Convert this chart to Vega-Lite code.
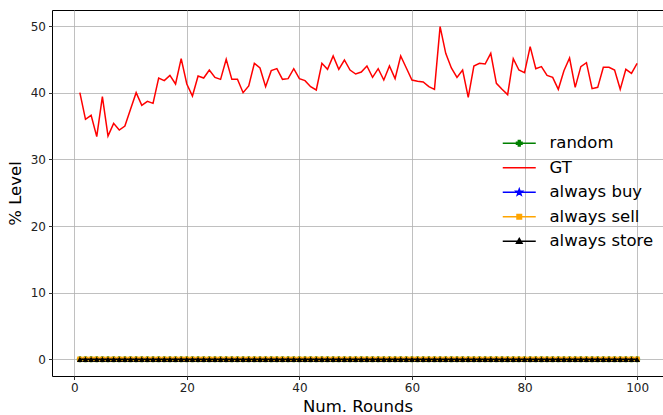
{
  "$schema": "https://vega.github.io/schema/vega-lite/v6.json",
  "width": 611,
  "height": 366,
  "autosize": {"type": "none"},
  "padding": {"left": 52, "top": 10, "right": 0, "bottom": 39},
  "background": "white",
  "data": {"values": [
    {"round":1,"random":0,"GT":40.0,"always buy":0,"always sell":0,"always store":0},
    {"round":2,"random":0,"GT":36.0,"always buy":0,"always sell":0,"always store":0},
    {"round":3,"random":0,"GT":36.6,"always buy":0,"always sell":0,"always store":0},
    {"round":4,"random":0,"GT":33.4,"always buy":0,"always sell":0,"always store":0},
    {"round":5,"random":0,"GT":39.4,"always buy":0,"always sell":0,"always store":0},
    {"round":6,"random":0,"GT":33.5,"always buy":0,"always sell":0,"always store":0},
    {"round":7,"random":0,"GT":35.4,"always buy":0,"always sell":0,"always store":0},
    {"round":8,"random":0,"GT":34.4,"always buy":0,"always sell":0,"always store":0},
    {"round":9,"random":0,"GT":35.0,"always buy":0,"always sell":0,"always store":0},
    {"round":10,"random":0,"GT":37.5,"always buy":0,"always sell":0,"always store":0},
    {"round":11,"random":0,"GT":40.0,"always buy":0,"always sell":0,"always store":0},
    {"round":12,"random":0,"GT":38.1,"always buy":0,"always sell":0,"always store":0},
    {"round":13,"random":0,"GT":38.7,"always buy":0,"always sell":0,"always store":0},
    {"round":14,"random":0,"GT":38.4,"always buy":0,"always sell":0,"always store":0},
    {"round":15,"random":0,"GT":42.2,"always buy":0,"always sell":0,"always store":0},
    {"round":16,"random":0,"GT":41.8,"always buy":0,"always sell":0,"always store":0},
    {"round":17,"random":0,"GT":42.6,"always buy":0,"always sell":0,"always store":0},
    {"round":18,"random":0,"GT":41.3,"always buy":0,"always sell":0,"always store":0},
    {"round":19,"random":0,"GT":45.1,"always buy":0,"always sell":0,"always store":0},
    {"round":20,"random":0,"GT":41.3,"always buy":0,"always sell":0,"always store":0},
    {"round":21,"random":0,"GT":39.5,"always buy":0,"always sell":0,"always store":0},
    {"round":22,"random":0,"GT":42.5,"always buy":0,"always sell":0,"always store":0},
    {"round":23,"random":0,"GT":42.2,"always buy":0,"always sell":0,"always store":0},
    {"round":24,"random":0,"GT":43.4,"always buy":0,"always sell":0,"always store":0},
    {"round":25,"random":0,"GT":42.3,"always buy":0,"always sell":0,"always store":0},
    {"round":26,"random":0,"GT":42.0,"always buy":0,"always sell":0,"always store":0},
    {"round":27,"random":0,"GT":45.0,"always buy":0,"always sell":0,"always store":0},
    {"round":28,"random":0,"GT":42.0,"always buy":0,"always sell":0,"always store":0},
    {"round":29,"random":0,"GT":42.0,"always buy":0,"always sell":0,"always store":0},
    {"round":30,"random":0,"GT":40.0,"always buy":0,"always sell":0,"always store":0},
    {"round":31,"random":0,"GT":41.0,"always buy":0,"always sell":0,"always store":0},
    {"round":32,"random":0,"GT":44.4,"always buy":0,"always sell":0,"always store":0},
    {"round":33,"random":0,"GT":43.7,"always buy":0,"always sell":0,"always store":0},
    {"round":34,"random":0,"GT":40.9,"always buy":0,"always sell":0,"always store":0},
    {"round":35,"random":0,"GT":43.3,"always buy":0,"always sell":0,"always store":0},
    {"round":36,"random":0,"GT":43.6,"always buy":0,"always sell":0,"always store":0},
    {"round":37,"random":0,"GT":42.0,"always buy":0,"always sell":0,"always store":0},
    {"round":38,"random":0,"GT":42.1,"always buy":0,"always sell":0,"always store":0},
    {"round":39,"random":0,"GT":43.6,"always buy":0,"always sell":0,"always store":0},
    {"round":40,"random":0,"GT":42.1,"always buy":0,"always sell":0,"always store":0},
    {"round":41,"random":0,"GT":41.8,"always buy":0,"always sell":0,"always store":0},
    {"round":42,"random":0,"GT":40.9,"always buy":0,"always sell":0,"always store":0},
    {"round":43,"random":0,"GT":40.4,"always buy":0,"always sell":0,"always store":0},
    {"round":44,"random":0,"GT":44.4,"always buy":0,"always sell":0,"always store":0},
    {"round":45,"random":0,"GT":43.5,"always buy":0,"always sell":0,"always store":0},
    {"round":46,"random":0,"GT":45.5,"always buy":0,"always sell":0,"always store":0},
    {"round":47,"random":0,"GT":43.5,"always buy":0,"always sell":0,"always store":0},
    {"round":48,"random":0,"GT":44.9,"always buy":0,"always sell":0,"always store":0},
    {"round":49,"random":0,"GT":43.4,"always buy":0,"always sell":0,"always store":0},
    {"round":50,"random":0,"GT":42.8,"always buy":0,"always sell":0,"always store":0},
    {"round":51,"random":0,"GT":43.1,"always buy":0,"always sell":0,"always store":0},
    {"round":52,"random":0,"GT":44.0,"always buy":0,"always sell":0,"always store":0},
    {"round":53,"random":0,"GT":42.3,"always buy":0,"always sell":0,"always store":0},
    {"round":54,"random":0,"GT":43.6,"always buy":0,"always sell":0,"always store":0},
    {"round":55,"random":0,"GT":41.9,"always buy":0,"always sell":0,"always store":0},
    {"round":56,"random":0,"GT":44.0,"always buy":0,"always sell":0,"always store":0},
    {"round":57,"random":0,"GT":42.1,"always buy":0,"always sell":0,"always store":0},
    {"round":58,"random":0,"GT":45.5,"always buy":0,"always sell":0,"always store":0},
    {"round":59,"random":0,"GT":43.7,"always buy":0,"always sell":0,"always store":0},
    {"round":60,"random":0,"GT":41.9,"always buy":0,"always sell":0,"always store":0},
    {"round":61,"random":0,"GT":41.7,"always buy":0,"always sell":0,"always store":0},
    {"round":62,"random":0,"GT":41.6,"always buy":0,"always sell":0,"always store":0},
    {"round":63,"random":0,"GT":40.9,"always buy":0,"always sell":0,"always store":0},
    {"round":64,"random":0,"GT":40.5,"always buy":0,"always sell":0,"always store":0},
    {"round":65,"random":0,"GT":49.9,"always buy":0,"always sell":0,"always store":0},
    {"round":66,"random":0,"GT":45.9,"always buy":0,"always sell":0,"always store":0},
    {"round":67,"random":0,"GT":43.7,"always buy":0,"always sell":0,"always store":0},
    {"round":68,"random":0,"GT":42.3,"always buy":0,"always sell":0,"always store":0},
    {"round":69,"random":0,"GT":43.4,"always buy":0,"always sell":0,"always store":0},
    {"round":70,"random":0,"GT":39.3,"always buy":0,"always sell":0,"always store":0},
    {"round":71,"random":0,"GT":44.0,"always buy":0,"always sell":0,"always store":0},
    {"round":72,"random":0,"GT":44.4,"always buy":0,"always sell":0,"always store":0},
    {"round":73,"random":0,"GT":44.3,"always buy":0,"always sell":0,"always store":0},
    {"round":74,"random":0,"GT":45.9,"always buy":0,"always sell":0,"always store":0},
    {"round":75,"random":0,"GT":41.4,"always buy":0,"always sell":0,"always store":0},
    {"round":76,"random":0,"GT":40.5,"always buy":0,"always sell":0,"always store":0},
    {"round":77,"random":0,"GT":39.7,"always buy":0,"always sell":0,"always store":0},
    {"round":78,"random":0,"GT":45.1,"always buy":0,"always sell":0,"always store":0},
    {"round":79,"random":0,"GT":43.4,"always buy":0,"always sell":0,"always store":0},
    {"round":80,"random":0,"GT":43.0,"always buy":0,"always sell":0,"always store":0},
    {"round":81,"random":0,"GT":46.9,"always buy":0,"always sell":0,"always store":0},
    {"round":82,"random":0,"GT":43.6,"always buy":0,"always sell":0,"always store":0},
    {"round":83,"random":0,"GT":43.9,"always buy":0,"always sell":0,"always store":0},
    {"round":84,"random":0,"GT":42.6,"always buy":0,"always sell":0,"always store":0},
    {"round":85,"random":0,"GT":42.3,"always buy":0,"always sell":0,"always store":0},
    {"round":86,"random":0,"GT":40.5,"always buy":0,"always sell":0,"always store":0},
    {"round":87,"random":0,"GT":43.3,"always buy":0,"always sell":0,"always store":0},
    {"round":88,"random":0,"GT":45.2,"always buy":0,"always sell":0,"always store":0},
    {"round":89,"random":0,"GT":40.8,"always buy":0,"always sell":0,"always store":0},
    {"round":90,"random":0,"GT":43.9,"always buy":0,"always sell":0,"always store":0},
    {"round":91,"random":0,"GT":44.5,"always buy":0,"always sell":0,"always store":0},
    {"round":92,"random":0,"GT":40.6,"always buy":0,"always sell":0,"always store":0},
    {"round":93,"random":0,"GT":40.8,"always buy":0,"always sell":0,"always store":0},
    {"round":94,"random":0,"GT":43.8,"always buy":0,"always sell":0,"always store":0},
    {"round":95,"random":0,"GT":43.8,"always buy":0,"always sell":0,"always store":0},
    {"round":96,"random":0,"GT":43.4,"always buy":0,"always sell":0,"always store":0},
    {"round":97,"random":0,"GT":40.5,"always buy":0,"always sell":0,"always store":0},
    {"round":98,"random":0,"GT":43.5,"always buy":0,"always sell":0,"always store":0},
    {"round":99,"random":0,"GT":42.9,"always buy":0,"always sell":0,"always store":0},
    {"round":100,"random":0,"GT":44.4,"always buy":0,"always sell":0,"always store":0}
  ]},
  "encoding": {
    "x": {"field": "round", "type": "quantitative",
      "scale": {"domain": [-3.95, 104.6], "nice": false, "zero": false},
      "axis": {"values": [0, 20, 40, 60, 80, 100], "title": "Num. Rounds"}}
  },
  "layer": [
    {"mark": {"type": "line", "color": "green", "strokeWidth": 1.5},
     "encoding": {"y": {"field": "random", "type": "quantitative",
       "scale": {"domain": [-2.5, 52.4], "nice": false, "zero": false},
       "axis": {"values": [0, 10, 20, 30, 40, 50], "title": "% Level"}}}},
    {"mark": {"type": "point", "shape": "cross", "filled": true, "color": "green", "size": 36, "opacity": 1},
     "encoding": {"y": {"field": "random", "type": "quantitative"}}},
    {"mark": {"type": "line", "color": "red", "strokeWidth": 1.5},
     "encoding": {"y": {"field": "GT", "type": "quantitative"}}},
    {"mark": {"type": "line", "color": "blue", "strokeWidth": 1.5},
     "encoding": {"y": {"field": "always buy", "type": "quantitative"}}},
    {"mark": {"type": "point", "shape": "M0,-0.65L0.153,-0.21L0.618,-0.201L0.247,0.08L0.382,0.526L0,0.26L-0.382,0.526L-0.247,0.08L-0.618,-0.201L-0.153,-0.21Z", "filled": true, "color": "blue", "size": 64, "opacity": 1},
     "encoding": {"y": {"field": "always buy", "type": "quantitative"}}},
    {"mark": {"type": "line", "color": "orange", "strokeWidth": 1.5},
     "encoding": {"y": {"field": "always sell", "type": "quantitative"}}},
    {"mark": {"type": "point", "shape": "square", "filled": true, "color": "orange", "size": 30, "opacity": 1},
     "encoding": {"y": {"field": "always sell", "type": "quantitative"}}},
    {"mark": {"type": "line", "color": "black", "strokeWidth": 1.5},
     "encoding": {"y": {"field": "always store", "type": "quantitative"}}},
    {"mark": {"type": "point", "shape": "triangle-up", "filled": true, "color": "black", "size": 36, "opacity": 1},
     "encoding": {"y": {"field": "always store", "type": "quantitative"}}},
    {"transform": [{"filter": "datum.round < 0"}],
     "mark": {"type": "point", "filled": true, "strokeWidth": 1.5, "opacity": 1},
     "encoding": {
       "y": {"field": "GT", "type": "quantitative"},
       "color": {"datum": "random",
         "scale": {"domain": ["random", "GT", "always buy", "always sell", "always store"], "range": ["green", "red", "blue", "orange", "black"]},
         "legend": {"title": null, "orient": "none", "legendX": 459, "legendY": 125}},
       "stroke": {"datum": "random",
         "scale": {"domain": ["random", "GT", "always buy", "always sell", "always store"], "range": ["green", "red", "blue", "orange", "black"]},
         "legend": {"title": null, "orient": "none", "legendX": 459, "legendY": 125}},
       "shape": {"datum": "random",
         "scale": {"domain": ["random", "GT", "always buy", "always sell", "always store"],
           "range": [
             "M-3.3,0H3.3M-0.18,-0.55H0.18V-0.18H0.55V0.18H0.18V0.55H-0.18V0.18H-0.55V-0.18H-0.18Z",
             "M-3.3,0H3.3",
             "M-3.3,0H3.3M0,-0.65L0.153,-0.21L0.618,-0.201L0.247,0.08L0.382,0.526L0,0.26L-0.382,0.526L-0.247,0.08L-0.618,-0.201L-0.153,-0.21Z",
             "M-3.3,0H3.3M-0.45,-0.45H0.45V0.45H-0.45Z",
             "M-3.3,0H3.3M0,-0.55L0.55,0.4H-0.55Z"
           ]},
         "legend": {"title": null, "orient": "none", "legendX": 459, "legendY": 125}}
     }}
  ],
  "config": {
    "view": {"stroke": "black", "strokeWidth": 1},
    "axis": {
      "domain": false,
      "grid": true,
      "gridColor": "#b0b0b0",
      "gridWidth": 0.8,
      "ticks": true,
      "tickColor": "black",
      "tickSize": 3.5,
      "tickWidth": 0.8,
      "labelFont": "DejaVu Sans",
      "labelFontSize": 12,
      "labelColor": "#222222",
      "labelPadding": 3,
      "titleFont": "DejaVu Sans",
      "titleFontSize": 16.5,
      "titleFontWeight": "normal",
      "titleColor": "black"
    },
    "axisX": {"titlePadding": 5},
    "axisY": {"titlePadding": 7},
    "legend": {
      "padding": 0,
      "labelFont": "DejaVu Sans",
      "labelFontSize": 16.5,
      "labelColor": "black",
      "symbolSize": 100,
      "symbolStrokeWidth": 1.5,
      "labelOffset": 22,
      "rowPadding": 7.5,
      "symbolOpacity": 1
    }
  }
}
